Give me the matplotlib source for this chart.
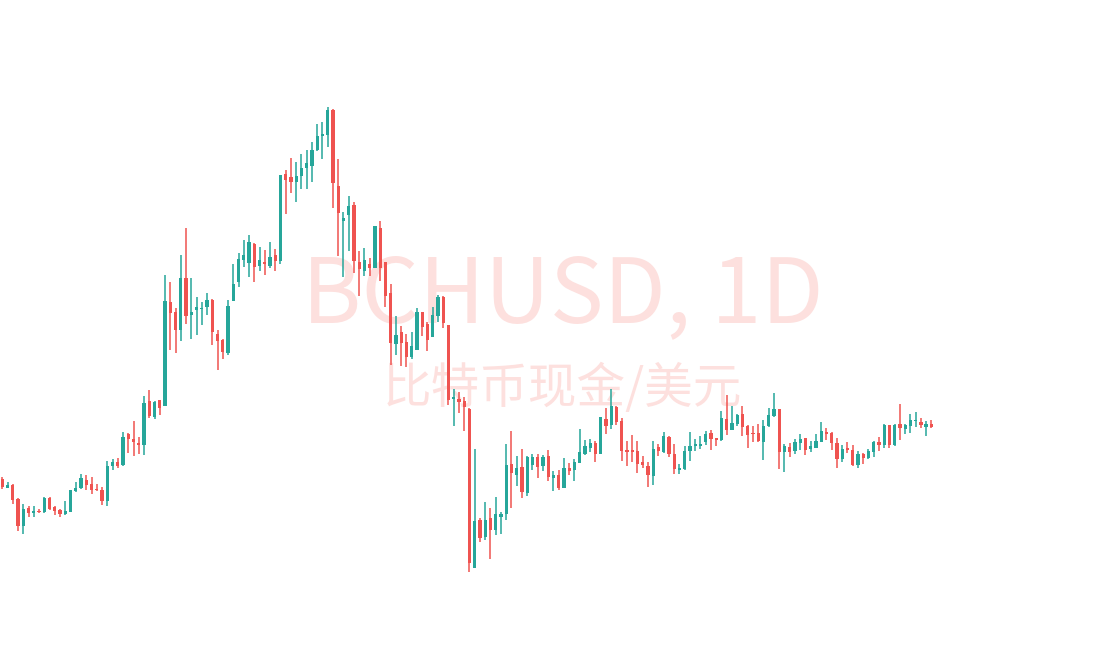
import numpy as np
import matplotlib.pyplot as plt

# daily candles, oldest first
opens = [221, 212, 215, 201, 174, 192, 187, 189, 188, 202, 193, 190, 186, 188, 209, 212, 220, 216, 211, 210,
         199, 234, 238, 235, 266, 261, 257, 255, 299, 283, 300, 294, 398, 388, 370, 422, 385, 390, 391, 393,
         400, 366, 360, 347, 399, 418, 440, 437, 456, 434, 438, 434, 445, 439, 526, 523, 518, 524, 532, 534,
         550, 564, 565, 590, 514, 479, 485, 495, 438, 429, 436, 432, 472, 438, 407, 356, 368, 358, 343, 350,
         388, 376, 363, 384, 403, 375, 301, 301, 299, 291, 132, 180, 163, 182, 170, 183, 186, 236, 225, 233,
         207, 235, 243, 234, 244, 222, 225, 212, 232, 230, 237, 246, 252, 257, 246, 281, 275, 293, 279, 250,
         250, 249, 238, 234, 224, 253, 248, 263, 246, 230, 231, 249, 254, 254, 258, 267, 262, 260, 281, 270,
         276, 286, 274, 267, 267, 258, 274, 284, 291, 248, 253, 249, 257, 262, 251, 252, 258, 268, 267, 257,
         241, 252, 250, 235, 246, 242, 248, 258, 255, 275, 255, 276, 271, 274, 279, 278, 273, 276]
highs = [223, 218, 216, 202, 196, 194, 194, 191, 203, 203, 194, 191, 199, 210, 218, 226, 225, 223, 216, 213,
         239, 241, 242, 268, 267, 279, 263, 304, 310, 299, 300, 425, 418, 392, 445, 472, 422, 403, 398, 407,
         401, 370, 361, 400, 436, 447, 460, 465, 457, 453, 450, 458, 451, 525, 530, 542, 538, 546, 550, 558,
         576, 578, 593, 591, 541, 488, 504, 498, 449, 452, 442, 474, 479, 438, 416, 384, 374, 366, 368, 392,
         388, 378, 393, 405, 404, 375, 311, 308, 303, 292, 251, 182, 198, 192, 203, 188, 256, 269, 244, 251,
         244, 246, 246, 245, 250, 229, 230, 242, 237, 241, 271, 260, 261, 259, 283, 292, 311, 294, 282, 259,
         265, 259, 244, 238, 259, 256, 268, 264, 256, 236, 254, 268, 261, 264, 269, 270, 262, 289, 305, 294,
         286, 294, 275, 274, 276, 280, 292, 307, 291, 256, 257, 261, 266, 262, 259, 266, 278, 272, 268, 262,
         255, 258, 255, 249, 247, 251, 259, 263, 276, 275, 276, 296, 276, 286, 288, 282, 279, 280]
lows = [211, 212, 196, 169, 166, 183, 183, 187, 187, 190, 185, 183, 185, 188, 208, 211, 210, 206, 209, 195,
        194, 230, 232, 234, 247, 244, 246, 245, 282, 281, 285, 294, 350, 347, 359, 376, 361, 365, 375, 385,
        355, 330, 341, 345, 399, 413, 433, 423, 418, 429, 425, 432, 429, 436, 486, 507, 498, 511, 511, 518,
        549, 541, 553, 492, 444, 423, 449, 427, 404, 424, 424, 432, 419, 393, 335, 345, 334, 333, 341, 350,
        364, 349, 363, 378, 372, 295, 274, 287, 269, 128, 132, 158, 160, 141, 165, 166, 180, 192, 214, 202,
        204, 230, 222, 229, 219, 209, 210, 212, 225, 219, 237, 245, 248, 238, 246, 266, 271, 275, 239, 234,
        238, 227, 232, 213, 215, 244, 247, 243, 226, 226, 230, 239, 249, 251, 255, 250, 254, 259, 265, 270,
        274, 264, 252, 258, 258, 240, 273, 283, 231, 228, 243, 246, 250, 245, 248, 252, 258, 260, 250, 232,
        238, 247, 234, 232, 236, 241, 243, 249, 252, 252, 254, 260, 266, 267, 273, 272, 264, 272]
closes = [213, 215, 200, 174, 191, 187, 189, 188, 202, 191, 189, 186, 189, 210, 212, 222, 215, 210, 210, 199,
          234, 238, 234, 263, 261, 258, 255, 297, 284, 298, 292, 399, 387, 370, 422, 384, 388, 393, 392, 400,
          368, 359, 348, 394, 416, 441, 445, 458, 433, 440, 436, 443, 439, 525, 520, 518, 524, 532, 537, 550,
          564, 566, 590, 517, 487, 482, 494, 439, 431, 440, 432, 474, 432, 404, 357, 365, 357, 343, 354, 388,
          373, 360, 385, 403, 377, 300, 303, 298, 293, 137, 179, 162, 180, 170, 186, 186, 235, 227, 232, 208,
          243, 243, 233, 243, 223, 225, 212, 232, 229, 238, 248, 254, 257, 246, 283, 274, 294, 278, 249, 248,
          248, 236, 235, 225, 251, 249, 264, 246, 231, 232, 249, 254, 256, 256, 266, 261, 260, 282, 270, 277,
          285, 273, 265, 266, 259, 274, 285, 291, 248, 254, 248, 258, 261, 250, 254, 259, 269, 266, 257, 241,
          251, 250, 235, 246, 242, 249, 258, 255, 275, 255, 275, 272, 275, 280, 280, 275, 276, 273]

title_text = 'BCHUSD, 1D'
subtitle_text = '比特币现金/美元'

up_color = '#26a69a'
down_color = '#ef5350'

o = np.array(opens)
h = np.array(highs)
l = np.array(lows)
c = np.array(closes)
x = np.arange(len(o))
colors = np.where(c >= o, up_color, down_color)

fig = plt.figure(figsize=(11.02, 6.70), dpi=100)
ax = fig.add_axes([0, 0, 1, 1])

# watermark behind the candles
wm_font = ['Noto Sans CJK SC', 'DejaVu Sans']
ax.text(563 / 1102, 1 - 322 / 670, title_text, transform=ax.transAxes, ha='center', va='baseline',
        fontsize=65, color='#fde0de', family=wm_font, zorder=0)
ax.text(562 / 1102, 1 - 389 / 670, subtitle_text, transform=ax.transAxes, ha='center', va='center',
        fontsize=35, color='#fde0de', family=wm_font, zorder=0)

# wicks then bodies
ax.vlines(x, l, h, colors=colors, linewidth=1.1, zorder=2)
body_bottom = np.minimum(o, c)
body_height = np.maximum(np.abs(c - o), 1.2)
ax.bar(x, body_height, bottom=body_bottom, width=0.62, color=colors, linewidth=0, zorder=3)

ax.set_xlim(-2.3 / 5.249, (1102 - 2.3) / 5.249)
ax.set_ylim(30, 700)
ax.axis('off')

fig.savefig('out.png', dpi=100, facecolor='white')
